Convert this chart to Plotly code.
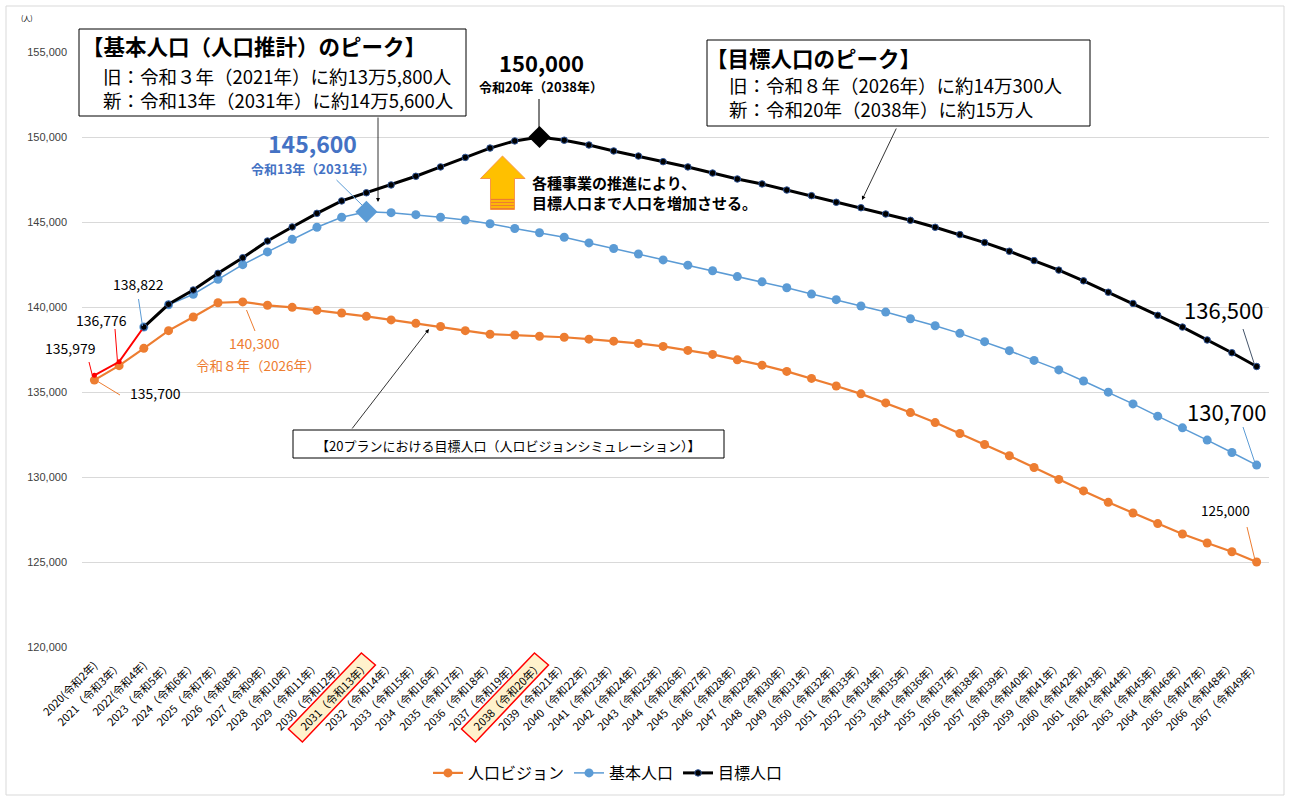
import plotly.graph_objects as go

# ---------------- data ----------------
years = list(range(2020, 2068))
x_labels = [
    "2020(令和2年)", "2021（令和3年）", "2022(令和4年)", "2023（令和5年）", "2024（令和6年）",
    "2025（令和7年）", "2026（令和8年）", "2027（令和9年）", "2028（令和10年）", "2029（令和11年）",
    "2030（令和12年）", "2031（令和13年）", "2032（令和14年）", "2033（令和15年）", "2034（令和16年）",
    "2035（令和17年）", "2036（令和18年）", "2037（令和19年）", "2038（令和20年）", "2039（令和21年）",
    "2040（令和22年）", "2041（令和23年）", "2042（令和24年）", "2043（令和25年）", "2044（令和26年）",
    "2045（令和27年）", "2046（令和28年）", "2047（令和29年）", "2048（令和30年）", "2049（令和31年）",
    "2050（令和32年）", "2051（令和33年）", "2052（令和34年）", "2053（令和35年）", "2054（令和36年）",
    "2055（令和37年）", "2056（令和38年）", "2057（令和39年）", "2058（令和40年）", "2059（令和41年）",
    "2060（令和42年）", "2061（令和43年）", "2062（令和44年）", "2063（令和45年）", "2064（令和46年）",
    "2065（令和47年）", "2066（令和48年）", "2067（令和49年）",
]

# 人口ビジョン
vision = [
    135700, 136550, 137570, 138610, 139410, 140250, 140300, 140100, 139980, 139810,
    139650, 139450, 139240, 139040, 138850, 138610, 138400, 138350, 138280, 138220,
    138110, 137990, 137860, 137680, 137445, 137210, 136890, 136580, 136210, 135800,
    135350, 134890, 134360, 133790, 133200, 132560, 131910, 131250, 130560, 129860,
    129180, 128510, 127880, 127260, 126650, 126120, 125600, 125000,
]
# 基本人口
basic = [
    None, None, 138822, 140130, 140750, 141630, 142490, 143240, 143980, 144690,
    145280, 145600, 145550, 145430, 145280, 145120, 144900, 144620, 144370, 144100,
    143770, 143440, 143120, 142770, 142460, 142130, 141790, 141480, 141130, 140760,
    140430, 140060, 139700, 139310, 138900, 138450, 137960, 137430, 136860, 136300,
    135650, 134990, 134300, 133580, 132890, 132170, 131440, 130700,
]
# 目標人口
target = [
    None, None, 138822, 140160, 141000, 141980, 142900, 143880, 144710, 145510,
    146240, 146720, 147180, 147690, 148240, 148800, 149350, 149770, 150000, 149810,
    149530, 149180, 148880, 148550, 148240, 147880, 147530, 147240, 146880, 146550,
    146160, 145840, 145470, 145100, 144690, 144260, 143790, 143280, 142730, 142170,
    141540, 140870, 140210, 139510, 138820, 138060, 137310, 136500,
]
# 実績
actual_years = [2020, 2021, 2022]
actual = [135979, 136776, 138822]

y_ticks = [120000, 125000, 130000, 135000, 140000, 145000, 150000, 155000]
highlight_years = [2031, 2038]

# ---------------- style ----------------
ORANGE = "#ED7D31"
BLUE = "#5B9BD5"
BLUE_TXT = "#4472C4"
FONT = "Noto Sans CJK JP"

L, R, T, B = 82, 21, 52, 153
W, H = 1290, 800
PW, PH = W - L - R, H - T - B


def px(x):
    return (x - L) / PW


def py(y):
    return (H - B - y) / PH


fig = go.Figure()
fig.add_trace(go.Scatter(x=years, y=vision, name="人口ビジョン", mode="lines+markers",
                         line=dict(color=ORANGE, width=2.2),
                         marker=dict(size=9, color=ORANGE)))
fig.add_trace(go.Scatter(x=years, y=basic, name="基本人口", mode="lines+markers",
                         line=dict(color=BLUE, width=1.5),
                         marker=dict(size=9, color=BLUE)))
fig.add_trace(go.Scatter(x=actual_years, y=actual, mode="lines+markers", showlegend=False,
                         line=dict(color="#FF0000", width=2),
                         marker=dict(size=5, color="#FF0000")))
fig.add_trace(go.Scatter(x=years, y=target, name="目標人口", mode="lines+markers",
                         line=dict(color="black", width=3),
                         marker=dict(size=6.5, color="black", line=dict(color="#2F5597", width=1))))

bvals = [v for v in basic if v is not None]
tvals = [v for v in target if v is not None]
bpk = max(bvals)
tpk = max(tvals)
fig.add_trace(go.Scatter(x=[years[basic.index(bpk)]], y=[bpk], mode="markers", showlegend=False,
                         marker=dict(symbol="diamond", size=17, color=BLUE)))
fig.add_trace(go.Scatter(x=[years[target.index(tpk)]], y=[tpk], mode="markers", showlegend=False,
                         marker=dict(symbol="diamond", size=17, color="black")))

shapes = []
annotations = []

# outer frame
shapes.append(dict(type="rect", xref="paper", yref="paper", x0=px(6), x1=px(1284), y0=py(6), y1=py(795),
                   line=dict(color="#D9D9D9", width=1), layer="below"))

# highlighted tick label boxes
for hy in highlight_years:
    shapes.append(dict(type="path", xref="x", yref="paper", xsizemode="pixel", ysizemode="pixel",
                       xanchor=hy, yanchor=0,
                       path="M -5,-6 L 9,-18 L -64,-95 L -78,-82 Z",
                       fillcolor="#FFF2CC", line=dict(color="#FF0000", width=1.5), layer="below"))


def rect(x0, y0, x1, y1):
    shapes.append(dict(type="rect", xref="paper", yref="paper", x0=px(x0), x1=px(x1), y0=py(y1), y1=py(y0),
                       line=dict(color="black", width=1), fillcolor="white", layer="above"))


def seg(x0, y0, x1, y1, color, width=1):
    shapes.append(dict(type="line", xref="paper", yref="paper", x0=px(x0), x1=px(x1), y0=py(y0), y1=py(y1),
                       line=dict(color=color, width=width), layer="above"))


def txt(text, x, y, size, color="black", xanchor="center", yanchor="middle", bold=False, align="center"):
    if bold:
        text = "<b>" + text + "</b>"
    annotations.append(dict(text=text, x=px(x), y=py(y), xref="paper", yref="paper", showarrow=False,
                            xanchor=xanchor, yanchor=yanchor, align=align,
                            font=dict(family=FONT, size=size, color=color)))


def arrow(x0, y0, x1, y1):
    annotations.append(dict(text="", x=px(x1), y=py(y1), xref="paper", yref="paper",
                            ax=x0 - x1, ay=y0 - y1, showarrow=True, arrowhead=2, arrowsize=1,
                            arrowwidth=0.8, arrowcolor="black", standoff=0, startstandoff=0))


# box 1
rect(79, 29, 466, 116)
txt("【基本人口（人口推計）のピーク】", 80, 45, 21.5, xanchor="left", bold=True)
txt("旧：令和３年（2021年）に約13万5,800人<br>新：令和13年（2031年）に約14万5,600人",
    101, 88, 18.5, xanchor="left", align="left")
arrow(378, 116, 378, 202)

# box 2
rect(707, 40, 1090, 126)
txt("【目標人口のピーク】", 704, 58, 21.5, xanchor="left", bold=True)
txt("旧：令和８年（2026年）に約14万300人<br>新：令和20年（2038年）に約15万人",
    727, 97, 18.5, xanchor="left", align="left")
arrow(897, 127, 862, 200)

# box 3
rect(293, 430, 724, 458)
txt("【20プランにおける目標人口（人ロビジョンシミュレーション）】", 508, 445, 13)
arrow(351, 430, 429, 329)

# orange up arrow
pts = [(502.5, 156), (525, 178.5), (514.5, 178.5), (514.5, 209.5), (490.5, 209.5), (490.5, 178.5), (480.5, 178.5)]
path = "M " + " L ".join(f"{px(a):.5f},{py(b):.5f}" for a, b in pts) + " Z"
shapes.append(dict(type="path", xref="paper", yref="paper", path=path, fillcolor="#FFC000",
                   line=dict(color="#F79646", width=1), layer="above"))
for yy in (199.5, 202.5, 205.5, 208.5):
    seg(491, yy, 514, yy, ORANGE, 1.3)
txt("各種事業の推進により、<br>目標人口まで人口を増加させる。", 530, 192, 15, xanchor="left", bold=True, align="left")

# peak labels
txt("150,000", 541, 62, 22, bold=True)
txt("令和20年（2038年）", 541, 86, 13, bold=True)
seg(539, 99, 539, 130, "black", 1)
txt("145,600", 312, 143, 23, color=BLUE_TXT, bold=True)
txt("令和13年（2031年）", 313, 168, 13, color=BLUE_TXT, bold=True)
seg(336.5, 180, 362, 205, BLUE, 1)

# data labels
txt("135,979", 70, 348, 14)
seg(89, 362, 92.5, 376, "#FF0000", 1)
txt("136,776", 101, 320, 14)
seg(115, 329, 117.5, 362, "#FF0000", 1)
txt("138,822", 138, 284, 14)
seg(138.5, 299, 142.5, 326, BLUE, 1)
txt("135,700", 155, 393, 14)
seg(97, 381, 120, 395, ORANGE, 1)
txt("140,300", 254, 343, 14, color=ORANGE)
txt("令和８年（2026年）", 194, 365, 13.5, color=ORANGE, xanchor="left")
seg(246.5, 310, 255, 331, ORANGE, 1)
txt("136,500", 1223, 309, 22)
seg(1243, 329, 1254, 363, "#44546A", 1)
txt("130,700", 1226, 411, 22)
seg(1243, 427, 1255, 463, BLUE, 1)
txt("125,000", 1225, 510, 13.5)
seg(1247, 527, 1255, 560, ORANGE, 1)

txt("(人)", 27, 18, 7)

fig.update_layout(
    width=W, height=H,
    margin=dict(l=L, r=R, t=T, b=B, autoexpand=False),
    paper_bgcolor="white", plot_bgcolor="white",
    font=dict(family=FONT, color="black"),
    showlegend=True,
    legend=dict(orientation="h", x=px(608), xanchor="center", y=py(773), yanchor="middle",
                font=dict(family=FONT, size=16, color="black"), bgcolor="rgba(0,0,0,0)",
                itemwidth=30),
    xaxis=dict(range=[2019.5, 2067.5], tickmode="array", tickvals=years, ticktext=x_labels,
               tickangle=-45, showgrid=False, zeroline=False, showline=False, ticks="",
               tickfont=dict(family=FONT, size=11, color="black"), automargin=False,
               ticklabelstandoff=9),
    yaxis=dict(range=[120000, 155000], tickmode="array", tickvals=y_ticks, tickformat=",",
               showgrid=True, gridcolor="#D9D9D9", gridwidth=1, zeroline=False, showline=False,
               ticks="", tickfont=dict(family="Liberation Sans", size=11, color="#404040"),
               automargin=False, ticklabelstandoff=14),
    shapes=shapes,
    annotations=annotations,
    hovermode=False,
)

fig.write_html("out.html")
